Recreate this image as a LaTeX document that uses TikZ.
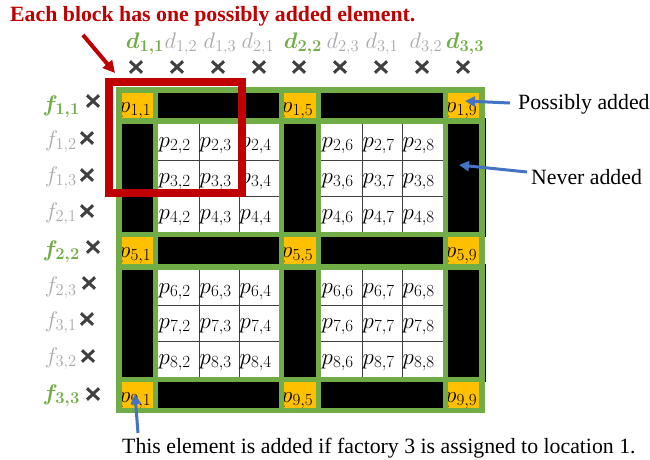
\RequirePackage{fix-cm}
\documentclass[tikz,border=0pt]{standalone}
\usepackage{fontspec}
\setmainfont{Liberation Serif}
\usetikzlibrary{arrows.meta,shapes.misc}
\DeclareMathSizes{23}{23}{17}{13}
\DeclareMathSizes{22.5}{22.5}{16.5}{13}
\definecolor{grn}{HTML}{70AD47}
\definecolor{yel}{HTML}{FFC000}
\definecolor{redc}{HTML}{C00000}
\definecolor{bluec}{HTML}{4472C4}
\definecolor{lgray}{HTML}{A9A9A9}
\definecolor{dgray}{HTML}{404040}
\begin{document}
\begin{tikzpicture}[x=1pt,y=-1pt,
  lbl/.style={inner sep=0pt, anchor=base west, font=\fontsize{21.8}{26}\selectfont},
  plab/.style={inner sep=0pt, anchor=base west, font=\fontsize{23}{27}\selectfont},
  glab/.style={inner sep=0pt, text=grn, font=\fontsize{22.5}{27}\selectfont\boldmath},
  hlab/.style={inner sep=0pt, text=lgray, font=\fontsize{22.5}{27}\selectfont},
  xmark/.style={cross out, draw=dgray, line width=3pt, minimum width=9pt, minimum height=8.5pt, inner sep=0pt},
  bar/.style={fill=black},
  ycell/.style={fill=yel},
  wblock/.style={fill=white},
  gline/.style={draw=dgray, line width=0.9pt},
  greenbg/.style={fill=grn},
  redbox/.style={draw=redc, line width=8pt},
  barrow/.style={draw=bluec, line width=3pt, -{Triangle[length=10pt,width=10pt]}},
  rarrow/.style={draw=redc, line width=4pt, -{Triangle[length=12pt,width=12pt]}},
]
\useasboundingbox (0,0) rectangle (650,459);

% green background
\fill[greenbg] (116,87) rectangle (485,413);
\draw[line width=0.9pt] (485.3,118) -- (485.3,237);
\draw[line width=0.9pt] (485.3,264) -- (485.3,382);

% white blocks
\foreach \xa/\xb in {158/279,321/443}
  \foreach \ya/\yb in {124/232,270/377}
    \fill[wblock] (\xa,\ya) rectangle (\xb,\yb);
% grid lines inside white blocks
\foreach \xx in {199,239,362,402} {
  \draw[gline] (\xx,124) -- (\xx,232);
  \draw[gline] (\xx,270) -- (\xx,377);
}
\foreach \yy in {160,196,305.5,341} {
  \draw[gline] (158,\yy) -- (279,\yy);
  \draw[gline] (321,\yy) -- (443,\yy);
}

% black bars
\foreach \ya/\yb in {93/118,237/264,382/408} {
  \fill[bar] (158,\ya) rectangle (279,\yb);
  \fill[bar] (321,\ya) rectangle (443,\yb);
}
\foreach \xa/\xb in {122/153,284/316,448/479} {
  \fill[bar] (\xa,124) rectangle (\xb,232);
  \fill[bar] (\xa,270) rectangle (\xb,377);
}

% yellow cells
\foreach \r/\ya/\yb/\bl in {1/93/118/112, 5/237/264/257, 9/382/408/402} {
  \foreach \c/\xa/\xb in {1/122/153, 5/284/316, 9/448/479} {
    \begin{scope}
      \clip (\xa,\ya) rectangle (\xb,\yb);
      \fill[ycell] (\xa,\ya) rectangle (\xb,\yb);
      \node[plab] (p\r\c) at (\xa-3,\bl) {$p_{\r,\c}$};
    \end{scope}
  }
}

% white cell labels
\foreach \r/\ry in {2/124,3/160,4/196,6/270,7/305,8/341} {
  \foreach \c/\cx in {2/158,3/199,4/239,6/321,7/362,8/402} {
    \node[plab] (p\r\c) at (\cx+0.5,\ry+23.5) {$p_{\r,\c}$};
  }
}

% red block outline
\draw[redbox] (109,82) rectangle (242,193);

% top labels
\node[glab] (d11) at (145,44) {$d_{1,1}$};
\node[hlab] (d12) at (181,44) {$d_{1,2}$};
\node[hlab] (d13) at (220,44) {$d_{1,3}$};
\node[hlab] (d21) at (258,44) {$d_{2,1}$};
\node[glab] (d22) at (303,44) {$d_{2,2}$};
\node[hlab] (d23) at (343,44) {$d_{2,3}$};
\node[hlab] (d31) at (382,44) {$d_{3,1}$};
\node[hlab] (d32) at (426,44) {$d_{3,2}$};
\node[glab] (d33) at (465,44) {$d_{3,3}$};
\foreach \i/\xx in {1/136,2/177,3/218,4/259,5/299,6/340,7/381,8/422,9/463}
  \node[xmark] (xd\i) at (\xx,67) {};

% left labels
\node[glab,anchor=east] (f11) at (80,106.5) {$f_{1,1}$};
\node[hlab,anchor=east] (f12) at (77,142) {$f_{1,2}$};
\node[hlab,anchor=east] (f13) at (77,178) {$f_{1,3}$};
\node[hlab,anchor=east] (f21) at (77,214) {$f_{2,1}$};
\node[glab,anchor=east] (f22) at (80,251.5) {$f_{2,2}$};
\node[hlab,anchor=east] (f23) at (77,287.5) {$f_{2,3}$};
\node[hlab,anchor=east] (f31) at (77,323) {$f_{3,1}$};
\node[hlab,anchor=east] (f32) at (77,359) {$f_{3,2}$};
\node[glab,anchor=east] (f33) at (80,396) {$f_{3,3}$};
\foreach \i/\xx/\yy in {1/93/101,2/87/138,3/87/175,4/87/211,5/93/247,6/89/283,7/87/319,8/88/356,9/93/394}
  \node[xmark] (xf\i) at (\xx,\yy) {};

% texts
\node[lbl, text=redc, font=\fontsize{21.8}{26}\selectfont\bfseries] (title) at (10,21) {Each block has one possibly added element.};
\node[lbl] (poss) at (518,109) {Possibly added};
\node[lbl] (never) at (531,184) {Never added};
\node[lbl] (note) at (122,453) {This element is added if factory 3 is assigned to location 1.};

% arrows
\coordinate (ra0) at (83,35);
\coordinate (ra1) at (115,73);
\draw[rarrow] (ra0) -- (ra1);
\coordinate (pa0) at (510,103);
\coordinate (pa1) at (465,101);
\draw[barrow] (pa0) -- (pa1);
\coordinate (na0) at (527,172);
\coordinate (na1) at (459,165);
\draw[barrow] (na0) -- (na1);
\coordinate (ba0) at (138,433);
\coordinate (ba1) at (135,394);
\draw[barrow] (ba0) -- (ba1);
\end{tikzpicture}
\end{document}
